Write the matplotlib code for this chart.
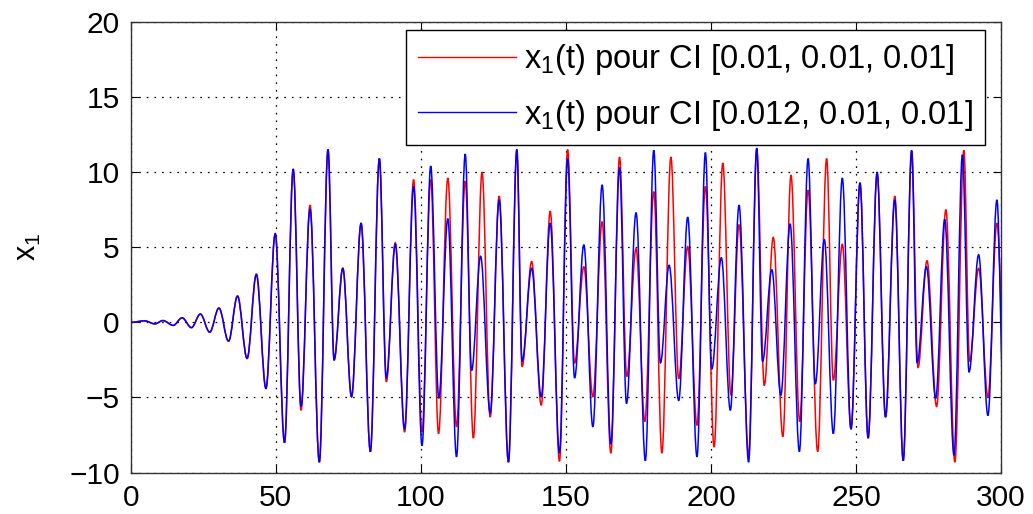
import matplotlib
matplotlib.use("Agg")
import matplotlib.pyplot as plt
from matplotlib.path import Path
from matplotlib.patches import PathPatch
from matplotlib.lines import Line2D

plt.rcParams['font.family'] = ['Liberation Sans', 'DejaVu Sans']
plt.rcParams['mathtext.fontset'] = 'custom'
plt.rcParams['mathtext.rm'] = 'Liberation Sans'
plt.rcParams['mathtext.it'] = 'Liberation Sans'
plt.rcParams['lines.scale_dashes'] = False

# ---- data: extrema (time, value) ----
t_start = [0, 4.8, 8.3, 11.1, 14.6, 17.7, 20.9, 24.0, 27.2, 30.4,
           33.7, 36.8, 40.1, 43.3, 46.6, 49.8, 53.0, 56.0, 58.7, 61.8,
           65.0, 68.0, 70.1, 73.1, 76.1, 79.4, 82.6, 85.7, 88.1, 91.2,
           94.4, 97.5, 100.4]

t_red = t_start + [103.4, 106.1, 109.3, 112.3, 115.3, 118.1, 121.1, 123.9, 127.0, 130.2,
                   133.1, 134.9, 138.2, 141.5, 144.6, 147.8, 150.6, 153.0, 156.2, 159.3,
                   162.5, 165.5, 168.5, 171.0, 174.2, 177.2, 180.3, 183.1, 186.2, 188.9,
                   192.0, 195.2, 198.1, 201.1, 204.1, 206.9, 209.7, 213.0, 215.8, 218.4,
                   221.5, 224.8, 227.6, 230.6, 233.5, 236.8, 239.9, 242.2, 245.3, 248.3,
                   251.4, 254.2, 257.3, 260.2, 263.4, 266.3, 269.2, 271.4, 274.5, 277.8,
                   281.0, 284.1, 287.2, 289.2, 292.3, 295.5, 298.6, 301.5]
x_red = [0, 0.1, -0.1, 0.12, -0.2, 0.3, -0.35, 0.55, -0.65, 0.95,
         -1.25, 1.75, -2.4, 3.2, -4.4, 5.9, -8.0, 10.2, -5.85, 7.8,
         -9.3, 11.5, -2.5, 3.6, -4.95, 6.6, -8.6, 10.9, -3.95, 5.3,
         -7.3, 9.5, -7.3,
         9.5, -7.4, 9.6, -6.95, 9.4, -7.7, 10.0, -6.3, 8.4, -9.3,
         11.5, -2.95, 4.05, -5.5, 7.4, -9.25, 11.5, -2.7, 3.7, -4.95,
         6.7, -8.7, 11.0, -3.6, 4.9, -6.6, 8.7, -8.7, 11.0, -3.75,
         5.05, -6.85, 9.05, -8.3, 10.6, -4.85, 6.5, -8.85, 11.5, -4.2,
         5.65, -7.6, 9.8, -6.6, 8.8, -8.6, 10.9, -3.85, 5.2, -7.1,
         9.25, -7.7, 9.9, -6.3, 8.4, -9.2, 11.4, -3.0, 4.1, -5.6,
         7.5, -9.3, 11.45, -2.6, 3.6, -4.95, 6.6, -5.0]

t_blue = t_start + [103.4, 106.2, 109.3, 112.3, 115.3, 117.5, 120.6, 123.9, 127.0, 130.2,
                    133.1, 134.9, 138.2, 141.5, 144.6, 147.8, 150.6, 153.0, 156.2, 159.3,
                    162.5, 165.5, 168.5, 170.9, 174.2, 177.4, 180.3, 182.6, 185.6, 188.9,
                    192.0, 195.2, 198.1, 200.3, 203.6, 206.7, 209.7, 213.0, 215.8, 217.8,
                    221.0, 224.1, 227.3, 230.5, 233.5, 236.0, 239.1, 242.2, 245.3, 248.3,
                    251.4, 254.2, 257.3, 260.2, 263.4, 266.3, 269.2, 271.1, 274.3, 277.5,
                    280.6, 283.8, 286.7, 289.0, 292.3, 295.5, 298.6, 301.0]
x_blue = [0, 0.1, -0.1, 0.12, -0.2, 0.3, -0.35, 0.55, -0.65, 0.95,
          -1.25, 1.75, -2.4, 3.2, -4.4, 5.9, -8.0, 10.2, -5.6, 7.55,
          -9.3, 11.5, -2.5, 3.6, -4.95, 6.6, -8.6, 10.9, -3.7, 5.2,
          -7.1, 9.05, -8.2,
          10.4, -5.05, 6.9, -8.95, 11.2, -3.2, 4.4, -6.05, 8.15, -9.3,
          11.5, -2.6, 3.6, -4.95, 6.6, -8.7, 10.9, -3.7, 5.15, -6.95,
          9.15, -8.1, 10.3, -5.4, 7.3, -9.2, 11.45, -2.7, 3.8, -5.2,
          7.0, -8.95, 11.3, -3.1, 4.3, -5.85, 7.8, -9.3, 11.6, -2.6,
          3.5, -4.85, 6.55, -8.6, 10.9, -4.1, 5.5, -7.4, 9.6, -7.1,
          9.3, -7.7, 10.0, -6.3, 8.15, -9.2, 11.45, -2.7, 3.7, -5.05,
          6.85, -8.85, 11.15, -3.3, 4.5, -6.2, 8.15, -6.0]

labels = ['x$_\\mathrm{1}$(t) pour CI [0.01, 0.01, 0.01]',
          'x$_\\mathrm{1}$(t) pour CI [0.012, 0.01, 0.01]']
colors = ['#ff0000', '#0000ff']
xticks = [0, 50, 100, 150, 200, 250, 300]
yticks = [-10, -5, 0, 5, 10, 15, 20]


def extrema_path(ts, xs, a=0.36):
    """Smooth path through extrema with horizontal tangents (cubic Bezier)."""
    verts = [(ts[0], xs[0])]
    codes = [Path.MOVETO]
    for i in range(1, len(ts)):
        t0, v0, t1, v1 = ts[i - 1], xs[i - 1], ts[i], xs[i]
        dt = t1 - t0
        verts += [(t0 + a * dt, v0), (t1 - a * dt, v1), (t1, v1)]
        codes += [Path.CURVE4] * 3
    return Path(verts, codes)


fig = plt.figure(figsize=(10.33, 5.14), dpi=100)
ax = fig.add_axes([0.1266, 0.0805, 0.8424, 0.877])

for ts, xs, c in [(t_red, x_red, colors[0]), (t_blue, x_blue, colors[1])]:
    ax.add_patch(PathPatch(extrema_path(ts, xs), facecolor='none',
                           edgecolor=c, lw=1.1, zorder=3))

ax.set_xlim(0, 300)
ax.set_ylim(-10, 20)
ax.set_xticks(xticks)
ax.set_yticks(yticks)
ax.tick_params(direction='in', length=6, width=0.8, top=True, right=True,
               labelsize=21.5, colors='black')
ax.tick_params(axis='x', pad=8)
ax.tick_params(axis='y', pad=8)
ax.grid(True, color='black', linestyle=(0, (1.2, 4.3)), linewidth=0.9)
for s in ax.spines.values():
    s.set_linewidth(1.0)
    s.set_color('#333333')

ax.set_ylabel('x$_\\mathrm{1}$', fontsize=22)
ax.yaxis.set_label_coords(-0.101, 0.5)

handles = [Line2D([], [], color=colors[0], lw=1.0),
           Line2D([], [], color=colors[1], lw=1.0)]
leg = ax.legend(handles, labels, loc='upper right',
                bbox_to_anchor=(0.982, 0.982), borderaxespad=0,
                fontsize=23.5, handlelength=3.0, handletextpad=0.25,
                labelspacing=0.62, borderpad=0.38, fancybox=False,
                framealpha=1, edgecolor='black')
leg.get_frame().set_linewidth(1.0)
leg.set_zorder(5)

fig.savefig('out.png', dpi=100)
